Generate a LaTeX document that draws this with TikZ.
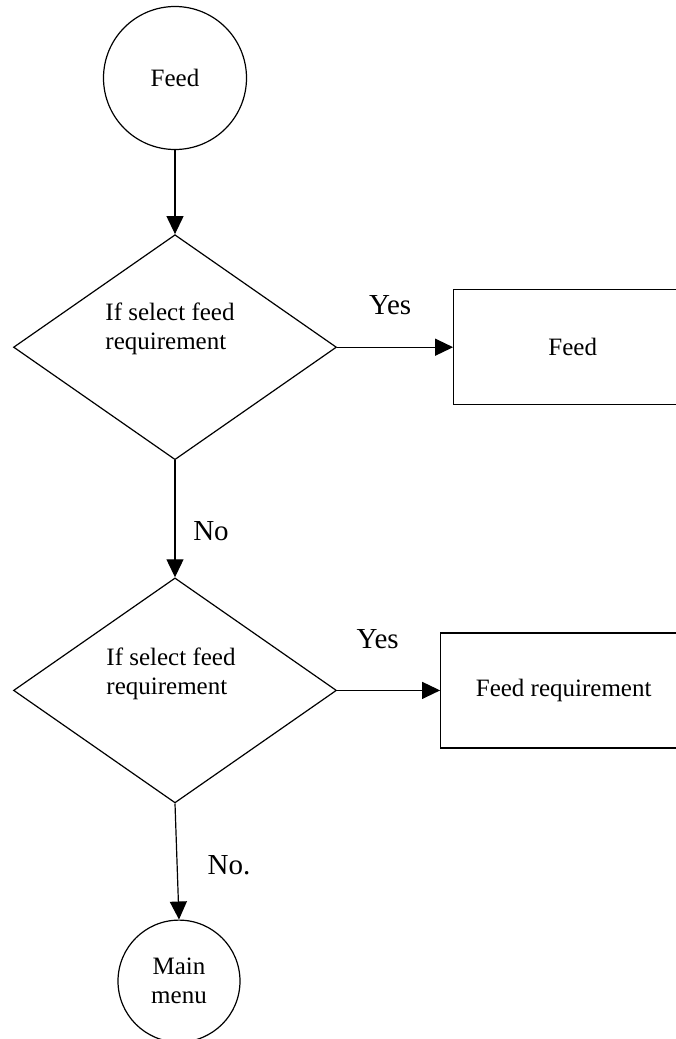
\documentclass[tikz,border=0pt]{standalone}
\usepackage{fontspec}
\setmainfont{Liberation Serif}
\usetikzlibrary{positioning,shapes.geometric,arrows.meta}
\tikzset{
	feed chart/.style={
		x=1pt,y=-1pt, % one unit is one pixel of the scan
		line width=1.2pt,
		font=\fontsize{25}{29}\selectfont
	},
	terminator/.style={
		circle,
		draw,
		inner sep=0pt,
		align=center
	},
	decision/.style={
		diamond,
		draw,
		inner sep=0pt,
		minimum width=323pt,
		minimum height=225pt
	},
	decision text/.style={
		align=left,
		inner sep=0pt
	},
	process/.style={
		rectangle,
		draw,
		minimum height=115pt
	},
	flow/.style={
		-{Triangle[length=18pt,width=17pt]}
	},
	answer/.style={
		inner sep=0pt,
		font=\fontsize{29}{33}\selectfont
	}
}

\begin{document}
\begin{tikzpicture}[feed chart]
	\useasboundingbox (0,0) rectangle (676,1039);
	\clip (0,0) rectangle (676,1039);
	% main column
	\node[terminator,minimum size=143pt] (feed) at (175,78) {Feed};
	\node[decision,below=84pt of feed,
		label={[decision text,xshift=-5pt,yshift=18pt]center:If select feed\\requirement}] (select1) {};
	\node[decision,below=117pt of select1,
		label={[decision text,xshift=-4pt,yshift=17pt]center:If select feed\\requirement}] (select2) {};
	\node[terminator,minimum size=122pt,below=116pt of select2,xshift=4pt] (mainmenu) {Main\\menu};
	% yes branches
	\node[process,minimum width=238pt,right=116pt of select1] (feedbox) {Feed};
	\node[process,minimum width=246pt,right=103pt of select2] (requirementbox) {Feed requirement};
	% connectors
	\draw[flow] (feed) -- (select1);
	\draw[flow] (select1) -- node[answer,xshift=36pt,yshift=-12pt] (no1) {No} (select2);
	\draw[flow] (select2.south) -- node[answer,xshift=52pt,yshift=-4pt] (no2) {No.} (mainmenu.north);
	\draw[flow] (select1) -- node[answer,xshift=-5pt,yshift=42pt] (yes1) {Yes} (feedbox);
	\draw[flow] (select2) -- node[answer,xshift=-11pt,yshift=51pt] (yes2) {Yes} (requirementbox);
\end{tikzpicture}
\end{document}
